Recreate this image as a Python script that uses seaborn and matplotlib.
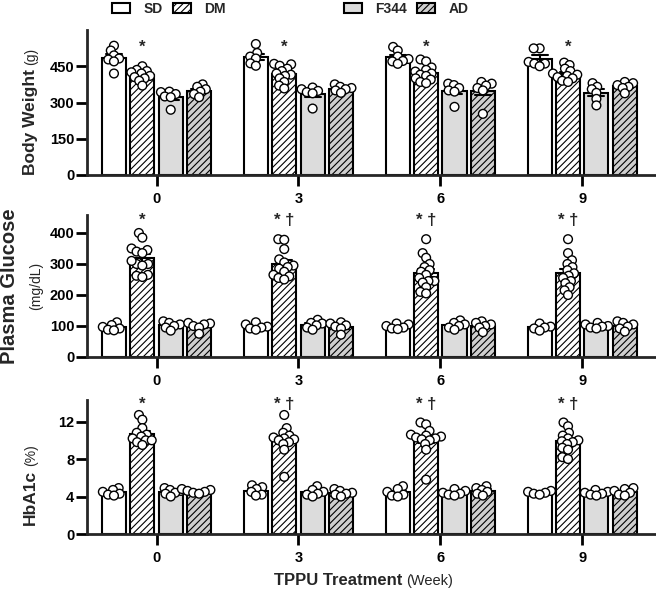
import matplotlib
matplotlib.use("Agg")
import numpy as np
import pandas as pd
import matplotlib.pyplot as plt
import seaborn as sns
from matplotlib.patches import Patch

weeks = ["0", "3", "6", "9"]
groups = ["SD", "DM", "F344", "AD"]

# body weight (g), one inner list per week
bw_sd = [[535, 515, 495, 482, 478, 470, 420], [542, 505, 490, 482, 462, 452],
         [530, 515, 490, 480, 472, 470, 460], [524, 524, 468, 461, 461, 450]]
bw_dm = [[450, 435, 430, 425, 420, 410, 405, 400, 390, 370],
         [460, 458, 452, 440, 430, 420, 415, 410, 400, 385, 370, 358],
         [478, 470, 445, 435, 428, 420, 415, 410, 400, 395, 385, 380],
         [465, 455, 440, 430, 420, 415, 410, 405, 400, 390, 385]]
bw_f344 = [[345, 343, 335, 325, 322, 270], [362, 355, 348, 343, 338, 275],
           [378, 372, 360, 350, 345, 282], [380, 365, 355, 340, 315, 288]]
bw_ad = [[375, 365, 355, 345, 335, 322], [375, 365, 360, 355, 350, 340],
         [385, 378, 370, 360, 350, 253], [385, 380, 372, 365, 360, 338]]

# plasma glucose (mg/dL)
glu_sd = [[112, 103, 97, 92, 88, 86], [112, 105, 98, 95, 92, 88],
          [108, 105, 100, 95, 92, 90], [108, 98, 95, 92, 85]]
glu_dm = [[400, 385, 350, 345, 340, 335, 300, 310, 300, 295, 265, 262, 258],
          [380, 378, 348, 315, 305, 295, 290, 285, 275, 265, 260, 255, 250],
          [380, 335, 320, 300, 290, 280, 275, 265, 255, 245, 245, 240, 225, 210, 205],
          [380, 335, 312, 300, 290, 280, 270, 262, 255, 245, 238, 225, 215, 200]]
glu_f344 = [[115, 110, 105, 100, 95, 85], [120, 110, 108, 102, 95, 88],
            [118, 110, 105, 100, 95, 88], [110, 105, 100, 98, 95, 92]]
glu_ad = [[110, 108, 105, 100, 95, 75], [112, 108, 102, 98, 92, 72],
          [115, 110, 105, 100, 95, 80], [115, 110, 105, 98, 92, 82]]

# HbA1c (%)
hb_sd = [[4.9, 4.7, 4.5, 4.3, 4.2, 4.1], [5.2, 5.0, 4.8, 4.5, 4.2, 4.1],
         [5.1, 4.8, 4.5, 4.2, 4.1, 4.0], [4.6, 4.5, 4.4, 4.3, 4.2]]
hb_dm = [[12.7, 12.2, 11.3, 10.8, 10.6, 10.4, 10.2, 10.0, 10.0, 9.8, 9.5],
         [12.7, 11.3, 10.8, 10.5, 10.3, 10.2, 10.1, 10.0, 9.8, 9.6, 9.0, 6.1],
         [11.9, 11.7, 11.0, 10.6, 10.5, 10.4, 10.3, 10.2, 10.1, 10.0, 9.6, 9.0, 5.8],
         [11.9, 11.5, 10.8, 10.5, 10.2, 10.0, 9.9, 9.8, 9.6, 9.2, 9.0, 8.2, 8.0]]
hb_f344 = [[4.9, 4.7, 4.6, 4.4, 4.3, 4.0], [5.1, 4.7, 4.5, 4.3, 4.2, 4.0],
           [4.8, 4.6, 4.4, 4.3, 4.2, 4.1], [4.7, 4.5, 4.4, 4.3, 4.2, 4.1]]
hb_ad = [[4.8, 4.7, 4.6, 4.5, 4.4, 4.3], [4.8, 4.6, 4.4, 4.3, 4.2, 4.0],
         [5.1, 4.9, 4.7, 4.5, 4.3, 4.1], [4.9, 4.8, 4.6, 4.4, 4.2, 4.1]]

bw_marks = ["*", "*", "*", "*"]
glu_marks = ["*", "* \u2020", "* \u2020", "* \u2020"]
hb_marks = ["*", "* \u2020", "* \u2020", "* \u2020"]


def to_long(sd, dm, f344, ad):
    rows = []
    for g, series in zip(groups, [sd, dm, f344, ad]):
        for w, vals in zip(weeks, series):
            for v in vals:
                rows.append((w, g, v))
    return pd.DataFrame(rows, columns=["week", "group", "value"])


sns.set_style("ticks")
plt.rcParams["font.family"] = ["Liberation Sans", "DejaVu Sans"]
plt.rcParams["font.weight"] = "bold"
plt.rcParams["hatch.linewidth"] = 0.8

W, H = 656, 596
fig = plt.figure(figsize=(W / 100, H / 100), dpi=100)


def px_axes(left, top, right, bottom):
    return fig.add_axes([left / W, 1 - bottom / H, (right - left) / W, (bottom - top) / H])


fills = {"SD": "white", "DM": "white", "F344": "#dcdcdc", "AD": "#cfcfcf"}
hatch_of = {"SD": "", "DM": "/////", "F344": "", "AD": "/////"}
dots = {g: "white" for g in groups}

panels = [
    (to_long(bw_sd, bw_dm, bw_f344, bw_ad), (87, 30, 656, 175), 600, [0, 150, 300, 450], bw_marks, 530),
    (to_long(glu_sd, glu_dm, glu_f344, glu_ad), (87, 215, 656, 357), 458, [0, 100, 200, 300, 400], glu_marks, 440),
    (to_long(hb_sd, hb_dm, hb_f344, hb_ad), (87, 400, 656, 534), 14.3, [0, 4, 8, 12], hb_marks, 13.8),
]

swarms = []
for df, box, top, ticks, marks, mark_y in panels:
    ax = px_axes(*box)
    sns.barplot(data=df, x="week", y="value", hue="group", order=weeks, hue_order=groups,
                palette=fills, errorbar="se", capsize=0.45, width=0.8, gap=0.15,
                edgecolor="black", linewidth=1.5,
                err_kws={"color": "black", "linewidth": 1.5}, legend=False, ax=ax)
    for cont, g in zip(ax.containers, groups):
        for bar in cont:
            bar.set_hatch(hatch_of[g])
    n_before = len(ax.collections)
    # small swarm size for the layout, markers are enlarged after it is fixed
    sns.swarmplot(data=df, x="week", y="value", hue="group", order=weeks, hue_order=groups,
                  palette=dots, dodge=True, size=3.1, edgecolor="black", linewidth=1,
                  legend=False, zorder=3, ax=ax, warn_thresh=1)
    swarms += ax.collections[n_before:]
    for i, m in enumerate(marks):
        ax.text(i - 0.1, mark_y, m, ha="center", va="center", fontsize=12, fontweight="bold")
    ax.set_xlim(-0.49, 3.52)
    ax.set_ylim(0, top)
    ax.set_yticks(ticks)
    ax.set_xlabel("")
    ax.set_ylabel("")
    sns.despine(ax=ax)
    for s in ["left", "bottom"]:
        ax.spines[s].set_linewidth(2)
    ax.tick_params(axis="both", width=2, length=8, labelsize=10.5, colors="black")
    ax.tick_params(axis="y", pad=1)
    ax.tick_params(axis="x", pad=4)

fig.canvas.draw()
for c in swarms:
    if "draw" in c.__dict__:
        del c.draw
    c.set_sizes([6.3 ** 2])
renderer = fig.canvas.get_renderer()


def split_label(x, y, bold, normal, bsize, nsize, vertical=True, gap=4):
    rot = 90 if vertical else 0
    t = fig.text(x / W, 1 - y / H, bold, fontsize=bsize, fontweight="bold", rotation=rot,
                 rotation_mode="anchor", ha="left", va="baseline")
    bb = t.get_window_extent(renderer)
    if vertical:
        fig.text(x / W, (bb.y1 + gap) / H, normal, fontsize=nsize, fontweight="normal",
                 rotation=rot, rotation_mode="anchor", ha="left", va="baseline")
    else:
        fig.text((bb.x1 + gap) / W, 1 - y / H, normal, fontsize=nsize, fontweight="normal",
                 rotation=rot, rotation_mode="anchor", ha="left", va="baseline")


split_label(35, 175, "Body Weight", "(g)", 12.5, 10)
split_label(35, 525, "HbA1c", "(%)", 12.5, 10)
fig.text(15 / W, 1 - 286 / H, "Plasma Glucose", fontsize=14.5, fontweight="bold",
         rotation=90, rotation_mode="anchor", ha="center", va="baseline")
fig.text(40 / W, 1 - 286 / H, "(mg/dL)", fontsize=10, fontweight="normal",
         rotation=90, rotation_mode="anchor", ha="center", va="baseline")
split_label(274, 585, "TPPU Treatment", "(Week)", 12, 10.5, vertical=False)

h1 = [Patch(facecolor="white", edgecolor="black", linewidth=1.5, label="SD"),
      Patch(facecolor="white", edgecolor="black", linewidth=1.5, hatch="/////", label="DM")]
h2 = [Patch(facecolor="#dcdcdc", edgecolor="black", linewidth=1.5, label="F344"),
      Patch(facecolor="#cfcfcf", edgecolor="black", linewidth=1.5, hatch="/////", label="AD")]
for hs, cx in [(h1, 169), (h2, 406)]:
    fig.legend(handles=hs, loc="center", bbox_to_anchor=(cx / W, 1 - 9 / H), ncol=2,
               frameon=False, fontsize=10, handlelength=1.3, handleheight=0.65,
               handletextpad=0.95, columnspacing=0.75, borderpad=0)

fig.savefig("out.png", dpi=100)
